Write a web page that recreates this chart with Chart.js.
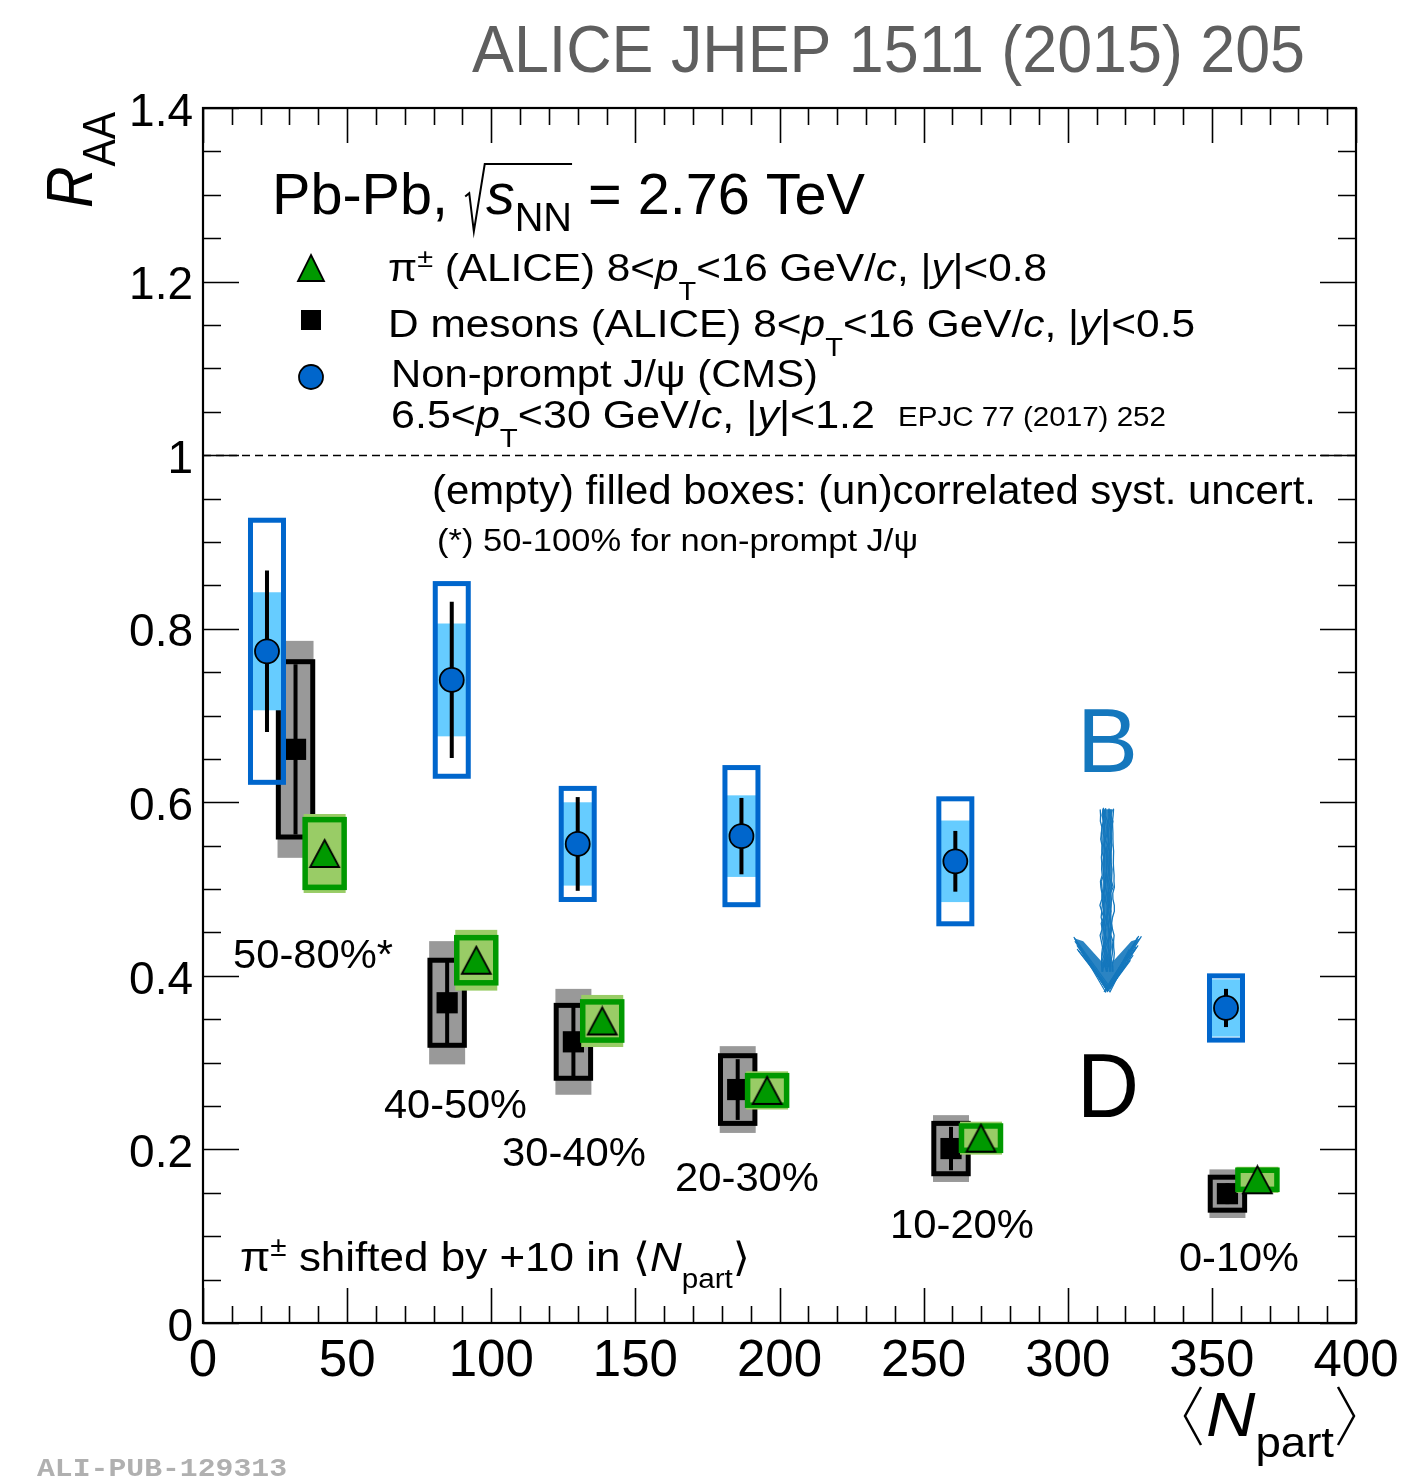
<!DOCTYPE html>
<html><head><meta charset="utf-8">
<script src="https://cdn.jsdelivr.net/npm/chart.js@4.4.1/dist/chart.umd.min.js"></script>
<style>html,body{margin:0;padding:0;background:#fff;} canvas{display:block;}</style>
</head><body>
<canvas id="c" width="1409" height="1479" style="width:1409px;height:1479px"></canvas>
<script>
// ---------------- DATA ----------------
const centralityLabels = ['50-80%*', '40-50%', '30-40%', '20-30%', '10-20%', '0-10%'];

// Non-prompt J/psi (CMS)
const npartJpsi  = [22.2, 86.3, 130.0, 186.8, 261.0, 354.9];
const raaJpsi    = [0.774, 0.741, 0.552, 0.561, 0.532, 0.363];
const statJpsi   = [0.093, 0.090, 0.054, 0.044, 0.035, 0.022];
const uncorrJpsi = [0.068, 0.065, 0.048, 0.047, 0.047, 0.033];
const corrJpsi   = [0.151, 0.111, 0.064, 0.079, 0.072, 0.037];

// D mesons (ALICE)
const npartD  = [32.1, 84.7, 128.5, 185.5, 259.5, 355.4];
const raaD    = [0.661, 0.369, 0.324, 0.269, 0.201, 0.149];
const statD   = [0.098, 0.049, 0.042, 0.035, 0.025, 0.012];
const uncorrD = [0.125, 0.071, 0.061, 0.050, 0.0385, 0.028];
const corrD   = [0.101, 0.049, 0.042, 0.039, 0.029, 0.019];

// charged pions (ALICE), drawn shifted by +10 in Npart
const piShift  = 10;
const npartPi  = [32.2, 84.8, 128.5, 185.7, 259.9, 355.8];
const raaPi    = [0.541, 0.418, 0.348, 0.268, 0.213, 0.165];
const statPi   = [0.010, 0.009, 0.008, 0.006, 0.005, 0.004];
const uncorrPi = [0.0455, 0.035, 0.030, 0.022, 0.019, 0.015];
const corrPi   = [0.039, 0.026, 0.022, 0.017, 0.014, 0.011];

const xTickMajor = 50, xTickMinor = 10;
const yTickMajor = 0.2, yTickMinor = 0.05;

// ---------------- STYLE ----------------
const FONT = '"Liberation Sans", "DejaVu Sans", Arial, sans-serif';
const COL = {
  jpsiLine: '#0066cc', jpsiFill: '#66ccff', jpsiMarker: '#0066cc',
  dLine: '#000000', dFill: '#999999', dMarker: '#000000',
  piLine: '#009900', piFill: '#99cc66', piMarker: '#009900',
  title: '#5f5f5f', arrow: '#1477bd'
};

function triCanvas(w, h, fill) {
  const c = document.createElement('canvas');
  c.width = w + 4; c.height = h + 4;
  const g = c.getContext('2d');
  g.beginPath(); g.moveTo(c.width / 2, 2); g.lineTo(w + 2, h + 2); g.lineTo(2, h + 2); g.closePath();
  g.fillStyle = fill; g.fill(); g.lineWidth = 1.8; g.strokeStyle = '#000'; g.stroke();
  return c;
}

const series = {
  jpsi: { xs: npartJpsi, ys: raaJpsi, stat: statJpsi, unc: uncorrJpsi, cor: corrJpsi,
          fill: COL.jpsiFill, line: COL.jpsiLine, hwFill: 16.5, hwLine: 16.5, lw: 5 },
  d:    { xs: npartD, ys: raaD, stat: statD, unc: uncorrD, cor: corrD,
          fill: COL.dFill, line: COL.dLine, hwFill: 18, hwLine: 17.2, lw: 5 },
  pi:   { xs: npartPi.map(v => v + piShift), ys: raaPi, stat: statPi, unc: uncorrPi, cor: corrPi,
          fill: COL.piFill, line: COL.piLine, hwFill: 21, hwLine: 19.5, lw: 5.5 }
};

function drawSeriesBoxes(chart, s) {
  const ctx = chart.ctx, X = chart.scales.x, Y = chart.scales.y;
  ctx.save();
  for (let i = 0; i < s.xs.length; i++) {
    const px = X.getPixelForValue(s.xs[i]);
    const ut = Y.getPixelForValue(s.ys[i] + s.unc[i]), ub = Y.getPixelForValue(s.ys[i] - s.unc[i]);
    ctx.fillStyle = s.fill;
    ctx.fillRect(px - s.hwFill, ut, 2 * s.hwFill, ub - ut);
    const ct = Y.getPixelForValue(s.ys[i] + s.cor[i]), cb = Y.getPixelForValue(s.ys[i] - s.cor[i]);
    ctx.strokeStyle = s.line; ctx.lineWidth = s.lw;
    ctx.strokeRect(px - s.hwLine, ct, 2 * s.hwLine, cb - ct);
    const st = Y.getPixelForValue(s.ys[i] + s.stat[i]), sb = Y.getPixelForValue(s.ys[i] - s.stat[i]);
    ctx.strokeStyle = '#000'; ctx.lineWidth = 4;
    ctx.beginPath(); ctx.moveTo(px, st); ctx.lineTo(px, sb); ctx.stroke();
  }
  ctx.restore();
}

function fontStr(size, it, fam, bold) { return (it ? 'italic ' : '') + (bold ? 'bold ' : '') + size + 'px ' + (fam || FONT); }

function rich(ctx, x, y, segs, o) {
  o = o || {};
  const base = o.size || 40;
  ctx.save();
  let total = 0;
  for (const s of segs) {
    if (s.rad) { s._w = s.rad; total += s._w; continue; }
    ctx.font = fontStr(s.size || base, s.it, s.fam || o.fam, o.bold);
    s._w = ctx.measureText(s.t).width;
    total += s._w;
  }
  const sx = o.width ? o.width / total : 1;
  ctx.translate(x, y);
  if (o.rotate) ctx.rotate(o.rotate);
  ctx.scale(sx, 1);
  ctx.textBaseline = 'alphabetic'; ctx.textAlign = 'left';
  let cx = 0;
  for (let k = 0; k < segs.length; k++) {
    const s = segs[k];
    if (s.rad) {
      let end = cx + s._w;
      for (let j = 1; j <= s.cover; j++) end += segs[k + j]._w;
      ctx.strokeStyle = o.color || '#000'; ctx.lineWidth = 2;
      ctx.beginPath();
      ctx.moveTo(cx + 0.02 * base, -0.30 * base);
      ctx.lineTo(cx + 0.09 * base, -0.36 * base);
      ctx.lineTo(cx + 0.17 * base, 0.30 * base);
      ctx.lineTo(cx + s._w - 0.02 * base, -0.86 * base);
      ctx.lineTo(end, -0.86 * base);
      ctx.stroke();
      cx += s._w; continue;
    }
    ctx.font = fontStr(s.size || base, s.it, s.fam || o.fam, o.bold);
    ctx.fillStyle = s.color || o.color || '#000';
    ctx.fillText(s.t, cx, s.dy || 0);
    cx += s._w;
  }
  ctx.restore();
}

function isMult(v, step) { const r = v / step; return Math.abs(r - Math.round(r)) < 1e-6; }

// seeded pseudo-random for a hand-drawn look of the arrow (style only)
let seed = 7;
function rnd() { seed = (seed * 16807) % 2147483647; return (seed - 1) / 2147483646; }

function drawArrow(ctx, X, Y) {
  seed = 7;
  const ax = X.getPixelForValue(313.7), top = Y.getPixelForValue(0.592), tip = Y.getPixelForValue(0.381);
  const hw = 33, hh = 54;
  ctx.save();
  ctx.strokeStyle = COL.arrow; ctx.fillStyle = COL.arrow; ctx.lineCap = 'round';
  // shaft body
  ctx.globalAlpha = 0.9;
  ctx.beginPath();
  ctx.moveTo(ax - 5, top); ctx.lineTo(ax + 5, top); ctx.lineTo(ax + 4, tip - 25); ctx.lineTo(ax - 4, tip - 25); ctx.closePath();
  ctx.fill();
  ctx.globalAlpha = 1;
  for (let k = 0; k < 10; k++) {
    const off = -6 + k * 1.3;
    ctx.lineWidth = 1.3;
    ctx.beginPath(); ctx.moveTo(ax + off + (rnd() - 0.5) * 2, top - 2 + rnd() * 3);
    for (let yy = top + 6; yy < tip - 20; yy += 6) ctx.lineTo(ax + off + (rnd() - 0.5) * 3, yy);
    ctx.stroke();
  }
  // head (chevron)
  ctx.globalAlpha = 0.9;
  ctx.beginPath();
  ctx.moveTo(ax, tip);
  ctx.lineTo(ax - hw, tip - hh);
  ctx.lineTo(ax - hw + 9, tip - hh + 3);
  ctx.lineTo(ax - 5, tip - 30);
  ctx.lineTo(ax, tip - 38);
  ctx.lineTo(ax + 5, tip - 30);
  ctx.lineTo(ax + hw - 9, tip - hh + 3);
  ctx.lineTo(ax + hw, tip - hh);
  ctx.closePath(); ctx.fill();
  ctx.globalAlpha = 1;
  for (let k = 0; k < 26; k++) {
    ctx.lineWidth = 1.2;
    const side = k % 2 ? 1 : -1;
    const f = rnd();
    ctx.beginPath();
    ctx.moveTo(ax + (rnd() - 0.5) * 6, tip - rnd() * 6);
    ctx.lineTo(ax + side * (hw * (0.55 + 0.45 * f)) + (rnd() - 0.5) * 5, tip - hh * (0.55 + 0.45 * f) + (rnd() - 0.5) * 8);
    ctx.stroke();
  }
  ctx.restore();
}

const plotPlugin = {
  id: 'plotPlugin',
  beforeDatasetsDraw(chart) {
    const ctx = chart.ctx, a = chart.chartArea, Y = chart.scales.y;
    const py = Math.round(Y.getPixelForValue(1.0)) + 0.5;
    ctx.save(); ctx.strokeStyle = '#000'; ctx.lineWidth = 1.5; ctx.setLineDash([8, 5]);
    ctx.beginPath(); ctx.moveTo(a.left, py); ctx.lineTo(a.right, py); ctx.stroke(); ctx.restore();
  },
  beforeDatasetDraw(chart, args) {
    const key = chart.data.datasets[args.index].key;
    drawSeriesBoxes(chart, series[key]);
  },
  afterDraw(chart) {
    const ctx = chart.ctx, a = chart.chartArea, X = chart.scales.x, Y = chart.scales.y;
    ctx.save(); ctx.strokeStyle = '#000'; ctx.lineWidth = 1.6;
    for (const t of X.ticks) {
      const px = Math.round(X.getPixelForValue(t.value)) + 0.5;
      const L = isMult(t.value, xTickMajor) ? 35 : 17;
      ctx.beginPath(); ctx.moveTo(px, a.bottom); ctx.lineTo(px, a.bottom - L);
      ctx.moveTo(px, a.top); ctx.lineTo(px, a.top + L); ctx.stroke();
    }
    for (const t of Y.ticks) {
      const py = Math.round(Y.getPixelForValue(t.value)) + 0.5;
      const L = isMult(t.value, yTickMajor) ? 36 : 18;
      ctx.beginPath(); ctx.moveTo(a.left, py); ctx.lineTo(a.left + L, py);
      ctx.moveTo(a.right, py); ctx.lineTo(a.right - L, py); ctx.stroke();
    }
    ctx.lineWidth = 2.2;
    ctx.strokeRect(a.left, a.top, a.right - a.left, a.bottom - a.top);
    ctx.restore();

    rich(ctx, 472, 72, [{t: 'ALICE JHEP 1511 (2015) 205'}], {size: 66, width: 833, color: COL.title});

    rich(ctx, 92, 208, [{t: 'R', it: true}, {t: 'AA', size: 46, dy: 23}], {size: 65, width: 96, rotate: -Math.PI / 2});
    ctx.save(); ctx.strokeStyle = '#000'; ctx.lineWidth = 2.5;
    ctx.beginPath(); ctx.moveTo(1201, 1387); ctx.lineTo(1185, 1416); ctx.lineTo(1201, 1445);
    ctx.moveTo(1338, 1387); ctx.lineTo(1354, 1416); ctx.lineTo(1338, 1445); ctx.stroke(); ctx.restore();
    rich(ctx, 1206, 1436, [{t: 'N', it: true}, {t: 'part', size: 42, dy: 21}], {size: 63, width: 128});

    rich(ctx, 272, 214, [{t: 'Pb-Pb, '}, {rad: 22, cover: 2}, {t: 's', it: true}, {t: 'NN', size: 40, dy: 17}, {t: ' = 2.76 TeV'}], {size: 58, width: 593});
    rich(ctx, 388, 281, [{t: 'π'}, {t: '±', size: 26, dy: -14}, {t: ' (ALICE) 8<'}, {t: 'p', it: true}, {t: 'T', size: 26, dy: 19},
      {t: '<16 GeV/'}, {t: 'c', it: true}, {t: ', |'}, {t: 'y', it: true}, {t: '|<0.8'}], {size: 38, width: 659});
    rich(ctx, 388, 337, [{t: 'D mesons (ALICE) 8<'}, {t: 'p', it: true}, {t: 'T', size: 26, dy: 19},
      {t: '<16 GeV/'}, {t: 'c', it: true}, {t: ', |'}, {t: 'y', it: true}, {t: '|<0.5'}], {size: 38, width: 807});
    rich(ctx, 391, 387, [{t: 'Non-prompt J/ψ (CMS)'}], {size: 38, width: 427});
    rich(ctx, 391, 428, [{t: '6.5<'}, {t: 'p', it: true}, {t: 'T', size: 26, dy: 19},
      {t: '<30 GeV/'}, {t: 'c', it: true}, {t: ', |'}, {t: 'y', it: true}, {t: '|<1.2'}], {size: 38, width: 484});
    rich(ctx, 898, 426, [{t: 'EPJC 77 (2017) 252'}], {size: 27, width: 268});
    rich(ctx, 432, 504, [{t: '(empty) filled boxes: (un)correlated syst. uncert.'}], {size: 40, width: 884});
    rich(ctx, 437, 551, [{t: '(*) 50-100% for non-prompt J/ψ'}], {size: 31, width: 481});

    ctx.save(); ctx.strokeStyle = '#000'; ctx.lineWidth = 1.8;
    ctx.beginPath(); ctx.moveTo(311, 255); ctx.lineTo(324, 281); ctx.lineTo(298, 281); ctx.closePath();
    ctx.fillStyle = COL.piMarker; ctx.fill(); ctx.stroke();
    ctx.fillStyle = COL.dMarker; ctx.fillRect(301, 310, 20, 20);
    ctx.beginPath(); ctx.arc(311, 377, 12, 0, Math.PI * 2); ctx.fillStyle = COL.jpsiMarker; ctx.fill(); ctx.stroke();
    ctx.restore();

    const labPos = [[233, 968, 160], [384, 1118, 143], [502, 1166, 144], [675, 1191, 144], [890, 1238, 144], [1179, 1271, 120]];
    centralityLabels.forEach((l, i) => rich(ctx, labPos[i][0], labPos[i][1], [{t: l}], {size: 40, width: labPos[i][2]}));

    rich(ctx, 240, 1271, [{t: 'π'}, {t: '±', size: 27, dy: -15}, {t: ' shifted by +10 in ⟨'}, {t: 'N', it: true},
      {t: 'part', size: 27, dy: 17}, {t: '⟩'}], {size: 40, width: 510});

    rich(ctx, 1077, 772, [{t: 'B'}], {size: 90, width: 61, color: COL.arrow});
    rich(ctx, 1077, 1117, [{t: 'D'}], {size: 90, width: 62});
    drawArrow(ctx, X, Y);

    rich(ctx, 37, 1476, [{t: 'ALI-PUB-129313'}], {size: 26, width: 250, bold: true,
      fam: '"Liberation Mono", "DejaVu Sans Mono", monospace', color: '#b0b0b0'});
  }
};

const ctx = document.getElementById('c').getContext('2d');
new Chart(ctx, {
  type: 'scatter',
  data: {
    datasets: [
      { key: 'pi', label: 'π± (ALICE)', data: series.pi.xs.map((x, i) => ({x, y: raaPi[i]})),
        pointStyle: triCanvas(29, 27, COL.piMarker), pointRadius: 14 },
      { key: 'jpsi', label: 'Non-prompt J/ψ (CMS)', data: npartJpsi.map((x, i) => ({x, y: raaJpsi[i]})),
        pointStyle: 'circle', pointRadius: 12, backgroundColor: COL.jpsiMarker, borderColor: '#000', borderWidth: 1.8 },
      { key: 'd', label: 'D mesons (ALICE)', data: npartD.map((x, i) => ({x, y: raaD[i]})),
        pointStyle: 'rect', pointRadius: 15, backgroundColor: COL.dMarker, borderColor: '#000', borderWidth: 0 }
    ]
  },
  options: {
    responsive: false, animation: false, events: [],
    layout: { padding: { left: 0, top: 108, right: 53, bottom: 0 } },
    scales: {
      x: { type: 'linear', min: 0, max: 400,
           grid: { display: false }, border: { display: false },
           ticks: { stepSize: xTickMinor, autoSkip: false, maxRotation: 0, minRotation: 0, padding: 0, color: '#000',
                    font: { family: FONT, size: 51 }, callback: v => isMult(v, xTickMajor) ? String(Math.round(v)) : '' },
           afterFit: s => { s.height = 156; } },
      y: { type: 'linear', min: 0, max: 1.4,
           grid: { display: false }, border: { display: false },
           ticks: { stepSize: yTickMinor, autoSkip: false, maxTicksLimit: 100, padding: 2, labelOffset: 5, color: '#000',
                    font: { family: FONT, size: 46 },
                    callback: v => isMult(v, yTickMajor) ? String(Math.round(v * 10) / 10) : '' },
           afterFit: s => { s.width = 203; } }
    },
    plugins: { legend: { display: false }, tooltip: { enabled: false } }
  },
  plugins: [plotPlugin]
});
</script></body></html>
